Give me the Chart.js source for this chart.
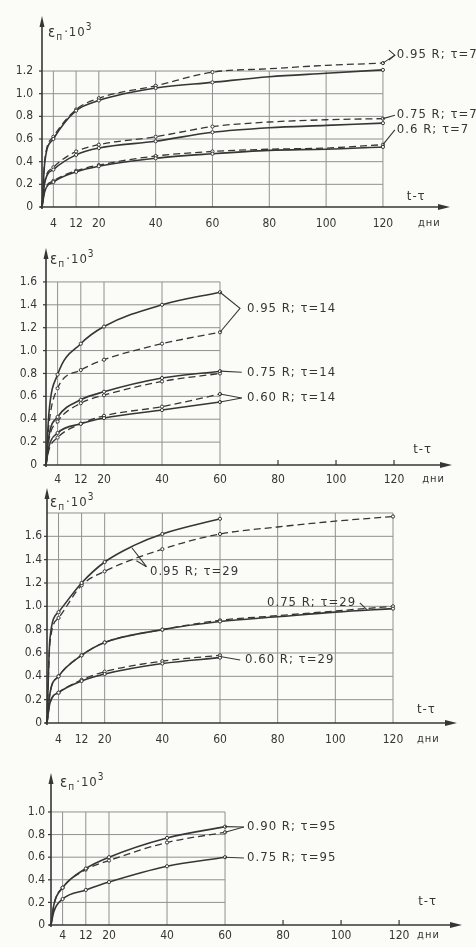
<!DOCTYPE html>
<html>
<head>
<meta charset="utf-8">
<script src="https://cdn.jsdelivr.net/npm/chart.js@4.4.0/dist/chart.umd.min.js"></script>
<style>
html,body{margin:0;padding:0;background:#fbfbf8;}
#wrap{position:relative;width:476px;height:947px;overflow:hidden;}
#wrap canvas{position:absolute;left:0;top:0;}
</style>
</head>
<body>
<div id="wrap">
  <canvas id="c7" width="476" height="947"></canvas>
  <canvas id="c14" width="476" height="947"></canvas>
  <canvas id="c29" width="476" height="947"></canvas>
  <canvas id="c95" width="476" height="947"></canvas>
</div>
<script>
// ==== Data: creep strain (x10^3) vs. t - tau, days ====
const xTicks = [4, 12, 20, 40, 60, 80, 100, 120];

// tau = 7
const days7 = [0, 1, 4, 12, 20, 40, 60, 80, 100, 120];
const s95_7 = [0, 0.40, 0.60, 0.85, 0.94, 1.05, 1.10, 1.15, 1.18, 1.21];
const d95_7 = [0, 0.42, 0.62, 0.86, 0.96, 1.07, 1.19, 1.22, 1.25, 1.27];
const s75_7 = [0, 0.22, 0.33, 0.46, 0.52, 0.58, 0.66, 0.70, 0.72, 0.74];
const d75_7 = [0, 0.23, 0.35, 0.49, 0.55, 0.62, 0.71, 0.75, 0.77, 0.78];
const s60_7 = [0, 0.14, 0.22, 0.31, 0.36, 0.43, 0.47, 0.50, 0.51, 0.53];
const d60_7 = [0, 0.15, 0.23, 0.32, 0.37, 0.45, 0.49, 0.51, 0.52, 0.55];
const yTicks7 = [0, 0.2, 0.4, 0.6, 0.8, 1.0, 1.2];

// tau = 14
const days14 = [0, 1, 4, 12, 20, 40, 60];
const s95_14 = [0, 0.45, 0.79, 1.06, 1.21, 1.40, 1.51];
const d95_14 = [0, 0.35, 0.67, 0.83, 0.92, 1.06, 1.16];
const s75_14 = [0, 0.25, 0.42, 0.57, 0.64, 0.76, 0.82];
const d75_14 = [0, 0.22, 0.38, 0.54, 0.61, 0.73, 0.80];
const s60_14 = [0, 0.16, 0.28, 0.36, 0.41, 0.48, 0.55];
const d60_14 = [0, 0.13, 0.24, 0.36, 0.43, 0.51, 0.62];
const yTicks14 = [0, 0.2, 0.4, 0.6, 0.8, 1.0, 1.2, 1.4, 1.6];

// tau = 29
const days29 = [0, 1, 4, 12, 20, 40, 60, 80, 100, 120];
const days29s = [0, 1, 4, 12, 20, 30, 40, 60];
const days29m = [0, 1, 4, 12, 20, 40, 60];
const s95_29 = [0, 0.72, 0.95, 1.20, 1.38, 1.52, 1.62, 1.75];
const d95_29 = [0, 0.68, 0.90, 1.18, 1.30, 1.49, 1.62, 1.68, 1.73, 1.77];
const s75_29 = [0, 0.25, 0.40, 0.58, 0.69, 0.80, 0.87, 0.91, 0.95, 0.98];
const d75_29 = [0, 0.25, 0.40, 0.58, 0.69, 0.80, 0.88, 0.92, 0.96, 1.00];
const s60_29 = [0, 0.17, 0.26, 0.36, 0.42, 0.51, 0.56];
const d60_29 = [0, 0.17, 0.26, 0.37, 0.44, 0.53, 0.58];
const yTicks29 = [0, 0.2, 0.4, 0.6, 0.8, 1.0, 1.2, 1.4, 1.6];

// tau = 95
const days95 = [0, 1, 4, 12, 20, 40, 60];
const s90_95 = [0, 0.18, 0.33, 0.50, 0.60, 0.77, 0.87];
const d90_95 = [0, 0.18, 0.33, 0.49, 0.57, 0.73, 0.82];
const s75_95 = [0, 0.12, 0.23, 0.31, 0.38, 0.52, 0.60];
const yTicks95 = [0, 0.2, 0.4, 0.6, 0.8, 1.0];

// ==== Style ====
const W = 476, H = 947, YW = 40, XH = 24;
const INK = '#363636';
const GRID = '#909090';
const BG = '#fbfbf8';
const FONT = '"DejaVu Sans Condensed", "DejaVu Sans", sans-serif';

// ==== Panels (layout + annotations, in data units) ====
const panels = [
  {
    id: 'c7', area: {left: 42, right: 448, top: 18, bottom: 207}, xMax: 142.9, yMax: 1.668,
    yTicks: yTicks7, gridX: xTicks, gridY: [0.2, 0.4, 0.6, 0.8, 1.0, 1.2], boxX: 120, boxY: 1.2, marks: [],
    yPad: 9, xPad: 10,
    series: [
      {x: days7, y: s95_7}, {x: days7, y: d95_7, dash: true},
      {x: days7, y: s75_7}, {x: days7, y: d75_7, dash: true},
      {x: days7, y: s60_7}, {x: days7, y: d60_7, dash: true}
    ],
    labels: [['0.95 R; τ=7', 124.9, 1.342], ['0.75 R; τ=7', 124.9, 0.812], ['0.6 R; τ=7', 124.9, 0.68]],
    leaders: [[[120, 1.27], [124.2, 1.34]], [[120, 0.78], [124.2, 0.81]], [[120, 0.55], [124.2, 0.68]]],
    chevron: [124.2, 1.34],
    yTitle: [2.1, 1.536], tTitle: [128.4, 0.088], dni: [132.3, -0.141]
  },
  {
    id: 'c14', area: {left: 46, right: 450, top: 250, bottom: 465}, xMax: 139.3, yMax: 1.879,
    yTicks: yTicks14, gridX: [4, 12, 20, 40, 60], gridY: [0.2, 0.4, 0.6, 0.8, 1.0, 1.2, 1.4, 1.6], boxX: 60, boxY: 1.6, marks: [80, 100, 120],
    yPad: 9, xPad: 8,
    series: [
      {x: days14, y: s95_14}, {x: days14, y: d95_14, dash: true},
      {x: days14, y: s75_14}, {x: days14, y: d75_14, dash: true},
      {x: days14, y: s60_14}, {x: days14, y: d60_14, dash: true}
    ],
    labels: [['0.95 R; τ=14', 69.3, 1.37], ['0.75 R; τ=14', 69.3, 0.81], ['0.60 R; τ=14', 69.3, 0.585]],
    leaders: [[[60, 1.51], [66.9, 1.37], [60, 1.16]], [[60, 0.82], [67.5, 0.81]],
              [[60, 0.55], [67.5, 0.585]], [[60, 0.62], [67.5, 0.585]]],
    yTitle: [1.4, 1.792], tTitle: [126.6, 0.131], dni: [129.7, -0.122]
  },
  {
    id: 'c29', area: {left: 47, right: 455, top: 490, bottom: 723}, xMax: 141.5, yMax: 1.997,
    yTicks: yTicks29, gridX: xTicks, gridY: [0.2, 0.4, 0.6, 0.8, 1.0, 1.2, 1.4, 1.6, 1.8], boxX: 120, boxY: 1.8, marks: [],
    yPad: 5, xPad: 10,
    series: [
      {x: days29s, y: s95_29}, {x: days29, y: d95_29, dash: true},
      {x: days29, y: s75_29}, {x: days29, y: d75_29, dash: true},
      {x: days29m, y: s60_29}, {x: days29m, y: d60_29, dash: true}
    ],
    labels: [['0.95 R; τ=29', 35.7, 1.294], ['0.75 R; τ=29', 76.3, 1.03], ['0.60 R; τ=29', 68.7, 0.54]],
    leaders: [[[29.5, 1.50], [34.5, 1.34]], [[31, 1.39], [34.5, 1.34]],
              [[108.5, 1.03], [111, 0.97]], [[60, 0.57], [67, 0.54]]],
    yTitle: [1.0, 1.885], tTitle: [128.3, 0.111], dni: [128.3, -0.137]
  },
  {
    id: 'c95', area: {left: 51, right: 460, top: 775, bottom: 925}, xMax: 141.0, yMax: 1.327,
    yTicks: yTicks95, gridX: [4, 12, 20, 40, 60], gridY: [0.2, 0.4, 0.6, 0.8, 1.0], boxX: 60, boxY: 1.0, marks: [80, 100, 120],
    yPad: 6, xPad: 4,
    series: [
      {x: days95, y: s90_95}, {x: days95, y: d90_95, dash: true},
      {x: days95, y: s75_95}
    ],
    labels: [['0.90 R; τ=95', 67.6, 0.867], ['0.75 R; τ=95', 67.6, 0.593]],
    leaders: [[[60, 0.87], [66.5, 0.867]], [[60, 0.82], [66.5, 0.867]], [[60, 0.60], [66.5, 0.593]]],
    yTitle: [3.1, 1.257], tTitle: [126.6, 0.204], dni: [126.2, -0.088]
  }
];

const markedDays = [4, 12, 20, 40, 60, 120];

function seg(ctx, x1, y1, x2, y2){ ctx.beginPath(); ctx.moveTo(x1, y1); ctx.lineTo(x2, y2); ctx.stroke(); }

// grid box, axes with arrows, titles, curve labels
function makeSketch(p){
  return {
    id: 'sketch',
    beforeDatasetsDraw(chart){
      const {ctx, chartArea: a} = chart;
      const X = v => chart.scales.x.getPixelForValue(v);
      const Y = v => chart.scales.y.getPixelForValue(v);
      ctx.save();
      ctx.strokeStyle = GRID; ctx.lineWidth = 1;
      p.gridY.forEach(v => seg(ctx, X(0), Y(v), X(p.boxX), Y(v)));
      p.gridX.forEach(v => seg(ctx, X(v), Y(0), X(v), Y(p.boxY)));
      ctx.strokeStyle = INK; ctx.lineWidth = 1.2;
      p.marks.forEach(v => seg(ctx, X(v), Y(0), X(v), Y(0) - 5));
      p.yTicks.forEach(v => seg(ctx, X(0) - 3, Y(v), X(0), Y(v)));
      ctx.lineWidth = 1.6;
      seg(ctx, a.left - 2, Y(0), a.right - 4, Y(0));
      seg(ctx, X(0), Y(0) + 2, X(0), a.top + 4);
      ctx.fillStyle = INK;
      ctx.beginPath(); ctx.moveTo(a.right + 2, Y(0)); ctx.lineTo(a.right - 10, Y(0) - 3); ctx.lineTo(a.right - 10, Y(0) + 3); ctx.fill();
      ctx.beginPath(); ctx.moveTo(X(0), a.top - 2); ctx.lineTo(X(0) - 2.5, a.top + 9); ctx.lineTo(X(0) + 2.5, a.top + 9); ctx.fill();
      ctx.restore();
    },
    afterDatasetsDraw(chart){
      const {ctx} = chart;
      const X = v => chart.scales.x.getPixelForValue(v);
      const Y = v => chart.scales.y.getPixelForValue(v);
      ctx.save();
      ctx.strokeStyle = INK; ctx.fillStyle = INK; ctx.lineWidth = 1.1;
      p.leaders.forEach(pts => {
        ctx.beginPath();
        pts.forEach(([x, y], i) => i ? ctx.lineTo(X(x), Y(y)) : ctx.moveTo(X(x), Y(y)));
        ctx.stroke();
      });
      if (p.chevron) {
        const cx = X(p.chevron[0]), cy = Y(p.chevron[1]);
        ctx.beginPath(); ctx.moveTo(cx - 6, cy - 5); ctx.lineTo(cx, cy); ctx.lineTo(cx - 6, cy + 5); ctx.stroke();
      }
      ctx.textBaseline = 'middle'; ctx.textAlign = 'left';
      ctx.letterSpacing = '1px';
      ctx.font = '13px ' + FONT;
      p.labels.forEach(([t, x, y]) => ctx.fillText(t, X(x), Y(y)));
      // axis titles
      ctx.fillText('t-τ', X(p.tTitle[0]), Y(p.tTitle[1]));
      ctx.font = '11px ' + FONT;
      ctx.fillText('дни', X(p.dni[0]), Y(p.dni[1]));
      let tx = X(p.yTitle[0]), ty = Y(p.yTitle[1]);
      ctx.font = '15px ' + FONT;
      ctx.fillText('ε', tx, ty); tx += ctx.measureText('ε').width;
      ctx.font = '10px ' + FONT;
      ctx.fillText('п', tx, ty + 4); tx += ctx.measureText('п').width + 1;
      ctx.font = '13px ' + FONT;
      ctx.fillText('·10', tx, ty); tx += ctx.measureText('·10').width;
      ctx.font = '10px ' + FONT;
      ctx.fillText('3', tx, ty - 6);
      ctx.restore();
    }
  };
}

// ==== Charts ====
panels.forEach(p => {
  new Chart(document.getElementById(p.id), {
    type: 'line',
    data: {
      datasets: p.series.map(s => ({
        data: s.x.map((x, i) => ({x, y: s.y[i]})),
        borderColor: INK,
        borderWidth: s.dash ? 1.3 : 1.6,
        borderDash: s.dash ? [7, 4] : [],
        pointRadius: c => (c.raw && markedDays.includes(c.raw.x) ? 1.6 : 0),
        pointBackgroundColor: BG,
        pointBorderColor: INK,
        pointBorderWidth: 1,
        cubicInterpolationMode: 'monotone',
        fill: false,
        clip: false
      }))
    },
    options: {
      responsive: false,
      animation: false,
      events: [],
      layout: { padding: { left: p.area.left - YW, right: W - p.area.right, top: p.area.top, bottom: H - p.area.bottom - XH } },
      plugins: { legend: {display: false}, tooltip: {enabled: false} },
      scales: {
        x: {
          type: 'linear', min: 0, max: p.xMax,
          afterFit: s => { s.height = XH; },
          afterBuildTicks: s => { s.ticks = xTicks.map(v => ({value: v})); },
          grid: {display: false, drawTicks: false},
          border: {display: false},
          ticks: { padding: p.xPad, color: INK, font: {family: FONT, size: 12}, maxRotation: 0, autoSkip: false }
        },
        y: {
          type: 'linear', min: 0, max: p.yMax,
          afterFit: s => { s.width = YW; },
          afterBuildTicks: s => { s.ticks = p.yTicks.map(v => ({value: v})); },
          grid: {display: false, drawTicks: false},
          border: {display: false},
          ticks: { padding: p.yPad, color: INK, font: {family: FONT, size: 12}, autoSkip: false,
                   callback: v => (v === 0 ? '0' : v.toFixed(1)) }
        }
      }
    },
    plugins: [makeSketch(p)]
  });
});
</script>
</body>
</html>
